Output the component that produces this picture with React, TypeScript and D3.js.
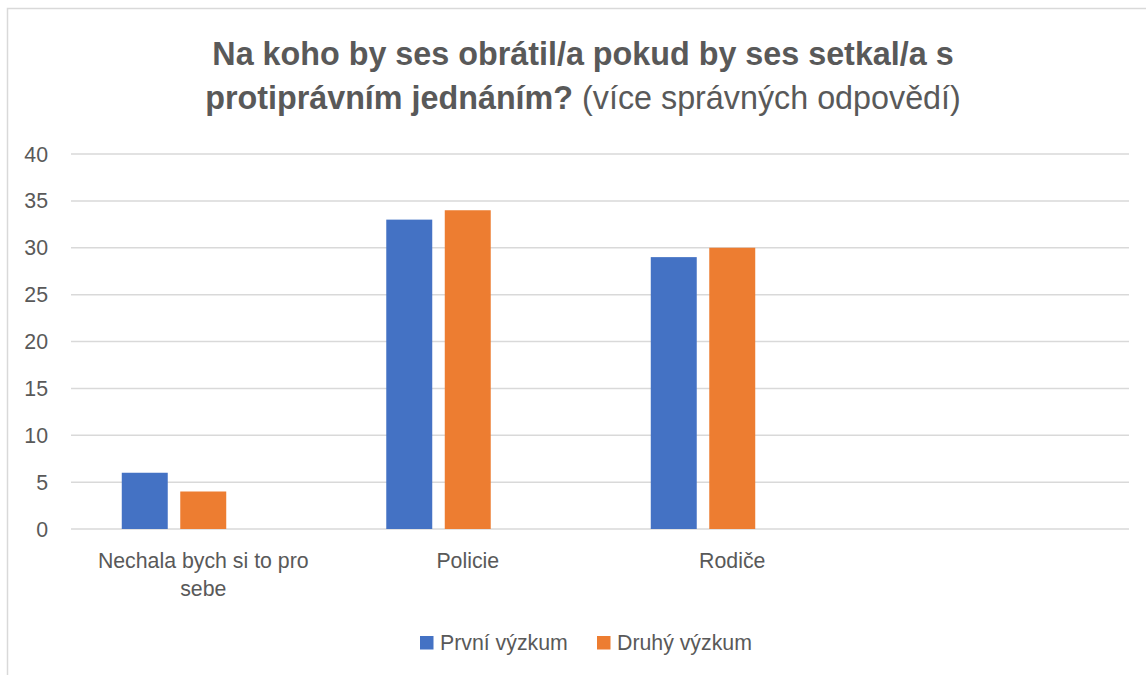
import React from "react";
import * as d3 from "d3";

const categories = ["Nechala bych si to pro sebe", "Policie", "Rodiče", ""];
const categoryLines = [["Nechala bych si to pro", "sebe"], ["Policie"], ["Rodiče"], [""]];
const seriesNames = ["První výzkum", "Druhý výzkum"];
const seriesSlots = ["První výzkum", "Druhý výzkum", "(prázdná řada)"];
const prvni = [6, 33, 29, null];
const druhy = [4, 34, 30, null];
const yTicks = [0, 5, 10, 15, 20, 25, 30, 35, 40];
const colors = ["#4472C4", "#ED7D31"];

const W = 1146;
const H = 675;
const FONT = "'Liberation Sans', Arial, sans-serif";

export default function App() {
  const x = d3.scaleBand<string>().domain(categories.map((c, i) => String(i))).range([71, 1129]);
  const inner = d3
    .scaleBand<string>()
    .domain(seriesSlots)
    .range([0, x.bandwidth()])
    .paddingInner(0.214)
    .paddingOuter(0.868);
  const y = d3.scaleLinear().domain([0, 40]).range([529, 154]);
  const values = [prvni, druhy];

  return (
    <svg
      width={W}
      height={H}
      style={{ position: "absolute", left: 0, top: 0, background: "#fff" }}
      fontFamily={FONT}
    >
      <rect x={7.5} y={8.5} width={1160} height={700} fill="#fff" stroke="#d9d9d9" strokeWidth={1.5} />
      <text x={583} y={65} textAnchor="middle" fontSize={32.3} fill="#595959" fontWeight="bold">
        Na koho by ses obrátil/a pokud by ses setkal/a s
      </text>
      <text x={583} y={109} textAnchor="middle" fontSize={32.3} fill="#595959">
        <tspan fontWeight="bold">protiprávním jednáním?</tspan>
        <tspan> (více správných odpovědí)</tspan>
      </text>
      {yTicks.map((t) => (
        <g key={t}>
          <line x1={71} x2={1129} y1={y(t)} y2={y(t)} stroke="#d9d9d9" strokeWidth={1.5} />
          <text x={48} y={y(t) + 7.5} textAnchor="end" fontSize={21.3} fill="#595959">
            {t}
          </text>
        </g>
      ))}
      {values.map((vals, si) =>
        vals.map((v, ci) =>
          v == null ? null : (
            <rect
              key={`${si}-${ci}`}
              x={(x(String(ci)) ?? 0) + (inner(seriesSlots[si]) ?? 0)}
              y={y(v)}
              width={inner.bandwidth()}
              height={y(0) - y(v)}
              fill={colors[si]}
            />
          )
        )
      )}
      {categoryLines.map((lines, ci) => (
        <text
          key={ci}
          x={(x(String(ci)) ?? 0) + x.bandwidth() / 2}
          y={567.5}
          textAnchor="middle"
          fontSize={21.3}
          fill="#595959"
        >
          {lines.map((l, li) => (
            <tspan key={li} x={(x(String(ci)) ?? 0) + x.bandwidth() / 2} dy={li === 0 ? 0 : 28.5}>
              {l}
            </tspan>
          ))}
        </text>
      ))}
      {seriesNames.map((s, i) => {
        const lx = [420, 597][i];
        return (
          <g key={s}>
            <rect x={lx} y={636} width={13.5} height={13.5} fill={colors[i]} />
            <text x={lx + 20} y={650} fontSize={21.3} fill="#595959">
              {s}
            </text>
          </g>
        );
      })}
    </svg>
  );
}
